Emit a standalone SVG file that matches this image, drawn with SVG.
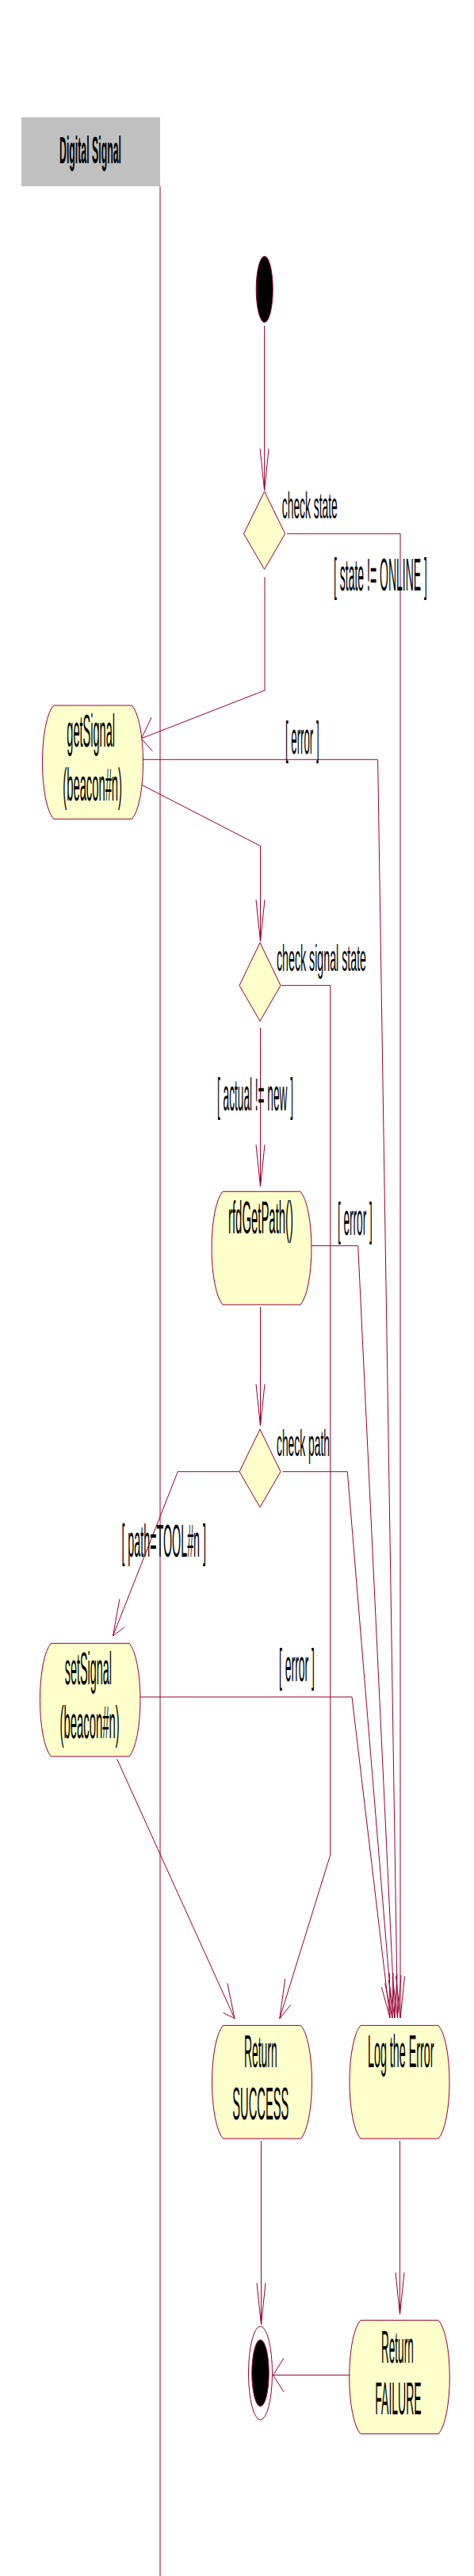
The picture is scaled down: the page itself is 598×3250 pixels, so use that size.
<svg xmlns="http://www.w3.org/2000/svg" width="598" height="3250" viewBox="0 0 598 3250">
<style>
.ln{fill:none;stroke:#990033;stroke-width:1}
.nd{fill:#ffffcc;stroke:#990033;stroke-width:1}
.t{font-family:"Liberation Sans",Arial,sans-serif;font-size:14.6px;fill:#000}
.d{font-size:11.8px}
.h{font-weight:bold;font-size:12.1px}
</style>
<rect width="598" height="3250" fill="#ffffff"/>
<g id="swimlane">
<rect x="27" y="148" width="175" height="87" fill="#c0c0c0"/>
<text class="t h" transform="scale(1,3.9)" x="75" y="52.82" textLength="78" lengthAdjust="spacingAndGlyphs">Digital Signal</text>
<line class="ln" x1="202" y1="235" x2="202" y2="3250"/>
</g>
<g id="connectors" class="ln">
<path d="M333.6 411 V619"/><polyline points="328.1,566.2 333.6,619 339.1,566.2"/>
<path d="M334 728 V871 L178.3 931.7"/><polyline points="191.2,905.2 178.3,931.7 192.3,947.7"/>
<path d="M362 673.3 H505 V2546"/><polyline points="499.5,2493.2 505,2546 510.5,2493.2"/>
<path d="M178.3 990 L328.5 1067.3 V1188"/><polyline points="323,1135.2 328.5,1188 334,1135.2"/>
<path d="M179.4 958.3 H476.6 L501.5 2546"/><polyline points="495.2,2494.6 501.5,2546 506.1,2492"/>
<path d="M328.5 1296.7 V1497"/><polyline points="323,1444.2 328.5,1497 334,1444.2"/>
<path d="M355 1243.3 H416.8 V2340 L352.8 2546.7"/><polyline points="359.7,2496.6 352.8,2546.7 366.7,2529.5"/>
<path d="M328.5 1649 V1799"/><polyline points="323,1746.2 328.5,1799 334,1746.2"/>
<path d="M391.5 1571.7 H451.7 L498 2546"/><polyline points="490.2,2498 498,2546 500.9,2490.2"/>
<path d="M302 1856.7 H224.3 L142.5 2064"/><polyline points="150.9,2017.4 142.5,2064 156.8,2053.1"/>
<path d="M356.6 1856.7 H438.3 L495 2546"/><polyline points="485.7,2502.3 495,2546 496.1,2489.2"/>
<path d="M147.6 2219.3 L296 2546.7"/><polyline points="286.9,2502.1 296,2546.7 281.5,2539.3"/>
<path d="M176.4 2141 H444 L492 2546"/><polyline points="481.4,2507.1 492,2546 491.3,2489.2"/>
<path d="M329.5 2701 V2933"/><polyline points="324,2880.2 329.5,2933 335,2880.2"/>
<path d="M504.5 2701 V2920"/><polyline points="499,2867.2 504.5,2920 510,2867.2"/>
<path d="M441 2996.5 H344.5"/><polyline points="358,2975.2 344.5,2996.5 358,3017.8"/>
</g>
<g id="guards" class="t">
<text transform="scale(1,3.9)" x="421" y="191.03" textLength="118" lengthAdjust="spacingAndGlyphs">[ state != ONLINE ]</text>
<text transform="scale(1,3.9)" x="360" y="243.85" textLength="42.6" lengthAdjust="spacingAndGlyphs">[ error ]</text>
<text transform="scale(1,3.9)" x="274" y="359.23" textLength="96" lengthAdjust="spacingAndGlyphs">[ actual != new ]</text>
<text transform="scale(1,3.9)" x="426" y="399.49" textLength="43.7" lengthAdjust="spacingAndGlyphs">[ error ]</text>
<text transform="scale(1,3.9)" x="153.4" y="503.59" textLength="106.6" lengthAdjust="spacingAndGlyphs">[ path=TOOL#n ]</text>
<text transform="scale(1,3.9)" x="352" y="543.85" textLength="45" lengthAdjust="spacingAndGlyphs">[ error ]</text>
</g>
<g id="start">
<ellipse cx="333.7" cy="365" rx="10.5" ry="41.7" fill="#000" stroke="#990033"/>
</g>
<g id="checkState">
<polygon class="nd" points="333.6,620 359.7,673.3 333.6,718.3 307.5,673.3"/>
<text class="t d" transform="scale(1,3.9)" x="355.8" y="167.69" textLength="70" lengthAdjust="spacingAndGlyphs">check state</text>
</g>
<g id="getSignal">
<path class="nd" d="M67.7 890 H166.3 A19 74 0 0 1 166.3 1033.3 H67.7 A19 74 0 0 1 67.7 890 Z"/>
<text class="t" transform="scale(1,3.9)" x="84.3" y="241.54" textLength="60.7" lengthAdjust="spacingAndGlyphs">getSignal</text>
<text class="t" transform="scale(1,3.9)" x="79.3" y="258.97" textLength="74.7" lengthAdjust="spacingAndGlyphs">(beacon#n)</text>
</g>
<g id="checkSignalState">
<polygon class="nd" points="328,1189.3 354,1243.3 328,1288.3 302,1243.3"/>
<text class="t d" transform="scale(1,3.9)" x="349" y="314.1" textLength="113" lengthAdjust="spacingAndGlyphs">check signal state</text>
</g>
<g id="rfdGetPath">
<path class="nd" d="M281 1503.3 H379 A19 74 0 0 1 379 1646 H281 A19 74 0 0 1 281 1503.3 Z"/>
<text class="t" transform="scale(1,3.9)" x="288" y="398.97" textLength="82" lengthAdjust="spacingAndGlyphs">rfdGetPath()</text>
</g>
<g id="checkPath">
<polygon class="nd" points="328,1803.3 354,1856.7 328,1901.7 302,1856.7"/>
<text class="t d" transform="scale(1,3.9)" x="349" y="471.03" textLength="67" lengthAdjust="spacingAndGlyphs">check path</text>
</g>
<g id="setSignal">
<path class="nd" d="M64.4 2073.3 H163 A19 74 0 0 1 163 2216 H64.4 A19 74 0 0 1 64.4 2073.3 Z"/>
<text class="t" transform="scale(1,3.9)" x="81.7" y="544.87" textLength="59.3" lengthAdjust="spacingAndGlyphs">setSignal</text>
<text class="t" transform="scale(1,3.9)" x="75.5" y="562.31" textLength="75.2" lengthAdjust="spacingAndGlyphs">(beacon#n)</text>
</g>
<g id="returnSuccess">
<path class="nd" d="M281.5 2555.4 H379.5 A19 74 0 0 1 379.5 2698.2 H281.5 A19 74 0 0 1 281.5 2555.4 Z"/>
<text class="t" transform="scale(1,3.9)" x="308" y="668.85" textLength="41.7" lengthAdjust="spacingAndGlyphs">Return</text>
<text class="t" transform="scale(1,3.9)" x="293.3" y="685.64" textLength="71" lengthAdjust="spacingAndGlyphs">SUCCESS</text>
</g>
<g id="logError">
<path class="nd" d="M455 2555.4 H553 A19 74 0 0 1 553 2698.2 H455 A19 74 0 0 1 455 2555.4 Z"/>
<text class="t" transform="scale(1,3.9)" x="464" y="668.85" textLength="83.5" lengthAdjust="spacingAndGlyphs">Log the Error</text>
</g>
<g id="returnFailure">
<path class="nd" d="M455 2927.3 H553 A19 74 0 0 1 553 3070.7 H455 A19 74 0 0 1 455 2927.3 Z"/>
<text class="t" transform="scale(1,3.9)" x="481" y="764.49" textLength="40.7" lengthAdjust="spacingAndGlyphs">Return</text>
<text class="t" transform="scale(1,3.9)" x="473.3" y="781.15" textLength="58.3" lengthAdjust="spacingAndGlyphs">FAILURE</text>
</g>
<g id="end">
<ellipse cx="328.5" cy="2994" rx="15" ry="59" fill="#ffffff" stroke="#990033"/>
<ellipse cx="328.5" cy="2994" rx="10.7" ry="42" fill="#000" stroke="#990033"/>
</g>
</svg>
